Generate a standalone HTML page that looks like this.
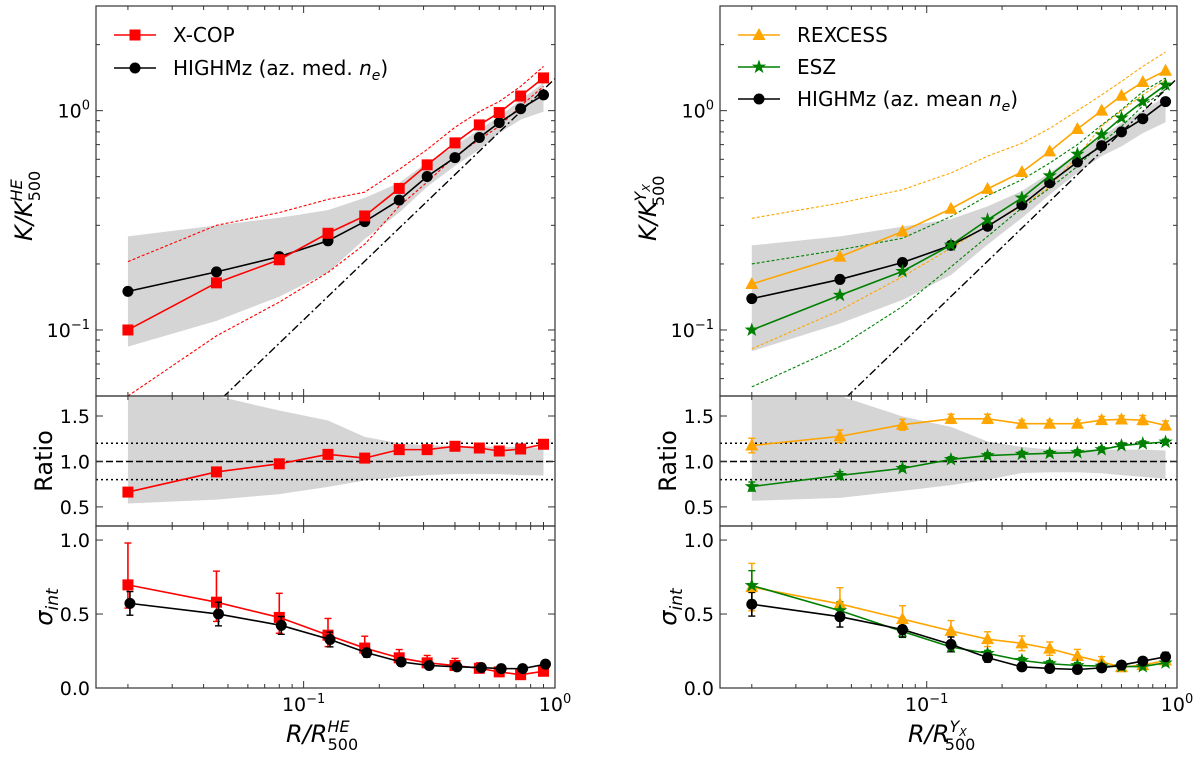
<!DOCTYPE html>
<html><head><meta charset="utf-8">
<style>
html,body{margin:0;padding:0;background:#fff;}
svg{display:block;font-family:"DejaVu Sans","Liberation Sans",sans-serif;}
</style></head>
<body>
<svg id="fig" width="1200" height="758" viewBox="0 0 1200 758" xmlns="http://www.w3.org/2000/svg"></svg>
<script>
// ---------- data ----------
const radii = [0.02,0.045,0.08,0.125,0.175,0.24,0.31,0.40,0.50,0.60,0.73,0.90];
// left column (HE)
const xcopK = [0.100,0.164,0.209,0.276,0.331,0.442,0.566,0.713,0.861,0.98,1.166,1.41];
const highmzMedK = [0.150,0.184,0.216,0.255,0.312,0.391,0.501,0.611,0.754,0.882,1.02,1.18];
const xcopUpper = [0.205,0.30,0.343,0.394,0.425,0.54,0.665,0.84,0.99,1.10,1.29,1.59];
const xcopLower = [0.05,0.094,0.134,0.183,0.246,0.367,0.472,0.62,0.738,0.849,1.05,1.29];
const bandLeftUpper = [0.267,0.30,0.325,0.352,0.40,0.469,0.58,0.69,0.82,0.94,1.12,1.34];
const bandLeftLower = [0.084,0.11,0.142,0.183,0.26,0.343,0.45,0.56,0.665,0.79,0.91,0.99];
const xcopRatio = [0.663,0.885,0.974,1.078,1.037,1.13,1.13,1.167,1.148,1.115,1.137,1.189];
const ratioBandLeftUpper = [2.0,1.72,1.56,1.45,1.27,1.2,1.18,1.17,1.17,1.16,1.16,1.15];
const ratioBandLeftLower = [0.537,0.58,0.64,0.72,0.79,0.83,0.85,0.86,0.86,0.86,0.85,0.845];
const xcopSigma = [0.697,0.58,0.477,0.357,0.27,0.204,0.17,0.152,0.133,0.109,0.09,0.113];
const xcopSigmaHi = [0.98,0.79,0.64,0.47,0.35,0.26,0.22,0.2,0.17,0.14,0.12,0.14];
const xcopSigmaLo = [0.54,0.45,0.37,0.28,0.23,0.17,0.14,0.12,0.11,0.09,0.07,0.09];
const highmzMedSigma = [0.572,0.5,0.423,0.328,0.238,0.176,0.152,0.143,0.138,0.131,0.131,0.161];
const highmzMedSigmaErr = [0.08,0.08,0.06,0.05,0.03,0.02,0.02,0.02,0.02,0.02,0.02,0.02];
// right column (Yx)
const rexcessK = [0.162,0.216,0.281,0.357,0.44,0.525,0.652,0.825,1.0,1.17,1.35,1.52];
const eszK = [0.10,0.144,0.185,0.244,0.318,0.40,0.505,0.634,0.777,0.927,1.10,1.31];
const highmzMeanK = [0.139,0.170,0.203,0.243,0.297,0.372,0.469,0.583,0.692,0.80,0.919,1.10];
const rexcessUpper = [0.323,0.379,0.436,0.52,0.62,0.71,0.83,1.0,1.18,1.36,1.59,1.85];
const rexcessLower = [0.082,0.123,0.175,0.236,0.30,0.366,0.45,0.62,0.85,1.0,1.18,1.38];
const eszUpper = [0.2,0.232,0.262,0.329,0.41,0.484,0.577,0.70,0.86,1.01,1.22,1.41];
const eszLower = [0.055,0.084,0.128,0.194,0.267,0.36,0.443,0.557,0.712,0.848,1.05,1.25];
const bandRightUpper = [0.243,0.267,0.296,0.32,0.366,0.43,0.52,0.64,0.76,0.88,1.0,1.16];
const bandRightLower = [0.08,0.107,0.137,0.178,0.245,0.324,0.414,0.52,0.62,0.687,0.79,0.885];
const rexcessRatio = [1.175,1.276,1.404,1.469,1.469,1.415,1.415,1.415,1.455,1.462,1.455,1.396];
const rexcessRatioErr = [0.08,0.07,0.06,0.05,0.05,0.04,0.04,0.04,0.04,0.04,0.05,0.05];
const eszRatio = [0.724,0.847,0.924,1.022,1.065,1.08,1.09,1.098,1.131,1.175,1.196,1.214];
const eszRatioErr = [0.05,0.04,0.03,0.03,0.03,0.03,0.03,0.03,0.03,0.03,0.03,0.03];
const ratioBandRightUpper = [2.0,1.72,1.495,1.38,1.22,1.16,1.13,1.13,1.13,1.13,1.13,1.12];
const ratioBandRightLower = [0.567,0.60,0.676,0.74,0.80,0.873,0.88,0.88,0.87,0.85,0.83,0.81];
const rexcessSigma = [0.682,0.568,0.466,0.386,0.33,0.302,0.266,0.216,0.177,0.141,0.155,0.186];
const rexcessSigmaErr = [0.16,0.11,0.09,0.07,0.05,0.05,0.045,0.045,0.035,0.03,0.03,0.03];
const eszSigma = [0.693,0.523,0.382,0.277,0.234,0.186,0.164,0.152,0.148,0.145,0.145,0.17];
const eszSigmaErr = [0.1,0.06,0.04,0.03,0.02,0.02,0.02,0.02,0.02,0.02,0.02,0.02];
const highmzMeanSigma = [0.566,0.482,0.395,0.295,0.205,0.143,0.132,0.125,0.136,0.155,0.182,0.211];
const highmzMeanSigmaErr = [0.08,0.07,0.05,0.05,0.03,0.02,0.02,0.02,0.02,0.02,0.02,0.03];
const baseA = 1.40;
const baseB = 1.1;

// ---------- helpers ----------
const NS = "http://www.w3.org/2000/svg";
const svg = document.getElementById('fig');
function mk(tag, attrs, parent){
  const e = document.createElementNS(NS, tag);
  for (const k in attrs) e.setAttribute(k, attrs[k]);
  (parent||svg).appendChild(e);
  return e;
}
const L10 = Math.log10;
const XMIN = Math.pow(10,-1.826), XMAX = 1.0;
function makeX(x0,x1){ return v => x0 + (L10(v)-L10(XMIN))/(L10(XMAX)-L10(XMIN))*(x1-x0); }
function makeYlog(y0,y1,lo,hi){ return v => y1 - (L10(v)-L10(lo))/(L10(hi)-L10(lo))*(y1-y0); }
function makeYlin(y0,y1,lo,hi){ return v => y1 - (v-lo)/(hi-lo)*(y1-y0); }

const RED='#ff0000', ORANGE='#ffa500', GREEN='#008000', BLACK='#000000', GREY='#d5d5d5';

let clipId = 0;
function panel(x0,x1,y0,y1){
  clipId++;
  const cp = mk('clipPath',{id:'cp'+clipId});
  mk('rect',{x:x0,y:y0,width:x1-x0,height:y1-y0},cp);
  const g = mk('g',{'clip-path':'url(#cp'+clipId+')'});
  return g;
}
function polyPts(xf,yf,xs,ys){ return xs.map((x,i)=>xf(x).toFixed(2)+','+yf(ys[i]).toFixed(2)).join(' '); }
function band(g,xf,yf,up,lo,name){
  const pts = radii.map((r,i)=>xf(r)+','+yf(up[i])).concat(radii.map((r,i)=>xf(r)+','+yf(lo[i])).reverse());
  const p = mk('polygon',{points:pts.join(' '),fill:GREY,stroke:'none'},g);
  
  
}
function line(g,xf,yf,ys,color,dash,w,name){
  const p = mk('polyline',{points:polyPts(xf,yf,radii,ys),fill:'none',stroke:color,'stroke-width':w||1.6,'stroke-dasharray':dash||'none'},g);
  
  
}
function marker(g,shape,cx,cy,color,name){
  let e;
  if (shape==='s') e = mk('rect',{x:cx-5.5,y:cy-5.5,width:11,height:11,fill:color},g);
  else if (shape==='o') e = mk('circle',{cx:cx,cy:cy,r:5.5,fill:color},g);
  else if (shape==='^') e = mk('polygon',{points:`${cx},${cy-7} ${cx+6.5},${cy+5} ${cx-6.5},${cy+5}`,fill:color},g);
  else {
    const pts=[]; for(let k=0;k<10;k++){const rr=k%2?3:7.5;const a=-Math.PI/2+k*Math.PI/5;pts.push((cx+rr*Math.cos(a)).toFixed(2)+','+(cy+rr*Math.sin(a)).toFixed(2));}
    e = mk('polygon',{points:pts.join(' '),fill:color},g);
  }
  
  
  return e;
}
function series(g,xf,yf,ys,color,shape,name,xoff){
  const xo = xoff||0;
  const p = mk('polyline',{points:radii.map((r,i)=>(xf(r)+xo)+','+yf(ys[i])).join(' '),fill:'none',stroke:color,'stroke-width':1.6},g);
  
  
  radii.forEach((r,i)=>{ marker(g,shape,xf(r)+xo,yf(ys[i]),color,name+'-point'); });
}
function errbars(g,xf,yf,hi,lo,color,name,xoff){
  const xo = xoff||0;
  radii.forEach((r,i)=>{
    const x = xf(r)+xo, yt = yf(hi[i]), yb = yf(lo[i]);
    const v = mk('line',{x1:x,x2:x,y1:yt,y2:yb,stroke:color,'stroke-width':1.6},g);
    
    
    const c1 = mk('line',{x1:x-3.5,x2:x+3.5,y1:yt,y2:yt,stroke:color,'stroke-width':1.4},g);
    
    
    const c2 = mk('line',{x1:x-3.5,x2:x+3.5,y1:yb,y2:yb,stroke:color,'stroke-width':1.4},g);
    
    
  });
}
function symErr(ys,err,sign){ return ys.map((v,i)=>v+sign*err[i]); }
function hline(g,x0,x1,y,dash,name){
  const l = mk('line',{x1:x0,x2:x1,y1:y,y2:y,stroke:'#000','stroke-width':1.5,'stroke-dasharray':dash},g);
  
  
}
function frame(x0,x1,y0,y1,name){
  const r = mk('rect',{x:x0,y:y0,width:x1-x0,height:y1-y0,fill:'none',stroke:'#333','stroke-width':1.2});
  
  
}
function tick(x1,y1,x2,y2,w){ const t = mk('line',{x1:x1,y1:y1,x2:x2,y2:y2,stroke:'#333','stroke-width':w||1});   }
function xTicks(xf,x0,x1,y0,y1){
  for (let d=-2; d<=0; d++){
    for (let m=1; m<=9; m++){
      const v = m*Math.pow(10,d); if (v<XMIN||v>XMAX+1e-9) continue;
      const x = xf(v), len = m===1?7:4;
      tick(x,y1,x,y1-len); tick(x,y0,x,y0+len);
    }
  }
}
function yTicksLog(yf,x0,x1,lo,hi){
  for (let d=-2; d<=0; d++){
    for (let m=1; m<=9; m++){
      const v = m*Math.pow(10,d); if (v<lo||v>hi) continue;
      const y = yf(v), len = m===1?7:4;
      tick(x0,y,x0+len,y); tick(x1,y,x1-len,y);
    }
  }
}
function yTicksLin(yf,x0,x1,vals,labels){
  vals.forEach((v,i)=>{
    const y = yf(v);
    tick(x0,y,x0+7,y); tick(x1,y,x1-7,y);
    const t = mk('text',{x:x0-6,y:y+7,'font-size':19,'text-anchor':'end',fill:'#000'});
    t.textContent = labels[i];
    
    
  });
}
function powLabel(x,y,anchor,exp,name){
  const t = mk('text',{x:x,y:y,'font-size':19,'text-anchor':anchor,fill:'#000'});
  
  
  const a = mk('tspan',{},t); a.textContent='10';
  const b = mk('tspan',{dy:-8,'font-size':13},t); b.textContent=exp;
}

const logTickVals = [1, 0.1];
const logTickExps = ['0','\u22121'];
const ratioTicks = [0.5,1.0,1.5];
const ratioTickLabels = ['0.5','1.0','1.5'];
const sigmaTicks = [0.0,0.5,1.0];
const sigmaTickLabels = ['0.0','0.5','1.0'];
const xTickVals = [0.1, 1];
const xTickExps = ['\u22121','0'];

function column(x0,x1,cfg){
  const xf = makeX(x0,x1);
  const yT = makeYlog(6,396,0.05,3.0);
  const gT = panel(x0,x1,6,396);
  
  
  cfg.top(gT,xf,yT);
  const bl = mk('line',{x1:xf(XMIN),y1:yT(baseA*Math.pow(XMIN,baseB)),x2:xf(1),y2:yT(baseA),stroke:'#000','stroke-width':1.4,'stroke-dasharray':'8,3,2,3'},gT);
  
  
  cfg.topSeries(gT,xf,yT);
  frame(x0,x1,6,396,cfg.prefix+'-profile-frame');
  xTicks(xf,x0,x1,6,396);
  yTicksLog(yT,x0,x1,0.05,3.0);
  logTickVals.forEach((v,i)=>powLabel(x0-6,yT(v)+7,'end',logTickExps[i],'y-tick-label'));
  const yR = makeYlin(396,526,0.29,1.72);
  const gR = panel(x0,x1,396,526);
  
  
  cfg.ratio(gR,xf,yR);
  hline(gR,x0,x1,yR(1.2),'2,3','ratio-upper-dotted');
  hline(gR,x0,x1,yR(0.8),'2,3','ratio-lower-dotted');
  hline(gR,x0,x1,yR(1.0),'7,3','ratio-unity-dashed');
  cfg.ratioSeries(gR,xf,yR);
  frame(x0,x1,396,526,cfg.prefix+'-ratio-frame');
  xTicks(xf,x0,x1,396,526);
  yTicksLin(yR,x0,x1,ratioTicks,ratioTickLabels);
  const yS = makeYlin(526,688,0,1.095);
  const gS = panel(x0,x1,526,688);
  
  
  cfg.sigma(gS,xf,yS);
  frame(x0,x1,526,688,cfg.prefix+'-scatter-frame');
  xTicks(xf,x0,x1,526,688);
  yTicksLin(yS,x0,x1,sigmaTicks,sigmaTickLabels);
  xTickVals.forEach((v,i)=>powLabel(xf(v),711,'middle',xTickExps[i],'x-tick-label'));
}

column(96,555,{
  prefix:'left',
  top:(g,xf,yf)=>{
    band(g,xf,yf,bandLeftUpper,bandLeftLower,'highmz-scatter-band');
    line(g,xf,yf,xcopUpper,RED,'3,2',1.1,'xcop-upper-dashed');
    line(g,xf,yf,xcopLower,RED,'3,2',1.1,'xcop-lower-dashed');
  },
  topSeries:(g,xf,yf)=>{
    series(g,xf,yf,highmzMedK,BLACK,'o','highmz-med');
    series(g,xf,yf,xcopK,RED,'s','xcop');
  },
  ratio:(g,xf,yf)=>band(g,xf,yf,ratioBandLeftUpper,ratioBandLeftLower,'ratio-band'),
  ratioSeries:(g,xf,yf)=>series(g,xf,yf,xcopRatio,RED,'s','xcop-ratio'),
  sigma:(g,xf,yf)=>{
    errbars(g,xf,yf,xcopSigmaHi,xcopSigmaLo,RED,'xcop-sigma',0);
    series(g,xf,yf,xcopSigma,RED,'s','xcop-sigma');
    errbars(g,xf,yf,symErr(highmzMedSigma,highmzMedSigmaErr,1),symErr(highmzMedSigma,highmzMedSigmaErr,-1),BLACK,'highmz-sigma',2);
    series(g,xf,yf,highmzMedSigma,BLACK,'o','highmz-sigma',2);
  }
});

column(720,1177,{
  prefix:'right',
  top:(g,xf,yf)=>{
    band(g,xf,yf,bandRightUpper,bandRightLower,'highmz-scatter-band');
    line(g,xf,yf,rexcessUpper,ORANGE,'3,2',1.1,'rexcess-upper-dashed');
    line(g,xf,yf,rexcessLower,ORANGE,'3,2',1.1,'rexcess-lower-dashed');
    line(g,xf,yf,eszUpper,GREEN,'3,2',1.1,'esz-upper-dashed');
    line(g,xf,yf,eszLower,GREEN,'3,2',1.1,'esz-lower-dashed');
  },
  topSeries:(g,xf,yf)=>{
    series(g,xf,yf,rexcessK,ORANGE,'^','rexcess');
    series(g,xf,yf,highmzMeanK,BLACK,'o','highmz-mean');
    series(g,xf,yf,eszK,GREEN,'*','esz');
  },
  ratio:(g,xf,yf)=>band(g,xf,yf,ratioBandRightUpper,ratioBandRightLower,'ratio-band'),
  ratioSeries:(g,xf,yf)=>{
    errbars(g,xf,yf,symErr(rexcessRatio,rexcessRatioErr,1),symErr(rexcessRatio,rexcessRatioErr,-1),ORANGE,'rexcess-ratio');
    errbars(g,xf,yf,symErr(eszRatio,eszRatioErr,1),symErr(eszRatio,eszRatioErr,-1),GREEN,'esz-ratio');
    series(g,xf,yf,rexcessRatio,ORANGE,'^','rexcess-ratio');
    series(g,xf,yf,eszRatio,GREEN,'*','esz-ratio');
  },
  sigma:(g,xf,yf)=>{
    errbars(g,xf,yf,symErr(rexcessSigma,rexcessSigmaErr,1),symErr(rexcessSigma,rexcessSigmaErr,-1),ORANGE,'rexcess-sigma');
    errbars(g,xf,yf,symErr(eszSigma,eszSigmaErr,1),symErr(eszSigma,eszSigmaErr,-1),GREEN,'esz-sigma');
    errbars(g,xf,yf,symErr(highmzMeanSigma,highmzMeanSigmaErr,1),symErr(highmzMeanSigma,highmzMeanSigmaErr,-1),BLACK,'highmz-sigma');
    series(g,xf,yf,rexcessSigma,ORANGE,'^','rexcess-sigma');
    series(g,xf,yf,eszSigma,GREEN,'*','esz-sigma');
    series(g,xf,yf,highmzMeanSigma,BLACK,'o','highmz-sigma');
  }
});

// ---------- legends ----------
function legendEntry(x,y,color,shape,name){
  const g = mk('g',{});
  
  
  mk('line',{x1:x,x2:x+42,y1:y,y2:y,stroke:color,'stroke-width':1.6},g);
  marker(g,shape,x+21,y,color,name+'-marker');
  return g;
}
function legendText(x,y,parts,g){
  const t = mk('text',{x:x,y:y+7,'font-size':20,fill:'#000'},g);
  
  
  parts.forEach(p=>{ const s=mk('tspan',p.a||{},t); s.textContent=p.t; });
}
let lg;
lg = legendEntry(114,35,RED,'s','legend-xcop'); legendText(173,35,[{t:'X-COP'}],lg);
lg = legendEntry(114,68,BLACK,'o','legend-highmz-med'); legendText(173,68,[{t:'HIGHMz (az. med. '},{t:'n',a:{'font-style':'italic'}},{t:'e',a:{'font-style':'italic','font-size':14,dy:5}},{t:')',a:{dy:-5}}],lg);
lg = legendEntry(738,35,ORANGE,'^','legend-rexcess'); legendText(797,35,[{t:'REXCESS'}],lg);
lg = legendEntry(738,67,GREEN,'*','legend-esz'); legendText(797,67,[{t:'ESZ'}],lg);
lg = legendEntry(738,99,BLACK,'o','legend-highmz-mean'); legendText(797,99,[{t:'HIGHMz (az. mean '},{t:'n',a:{'font-style':'italic'}},{t:'e',a:{'font-style':'italic','font-size':14,dy:5}},{t:')',a:{dy:-5}}],lg);

// ---------- axis titles ----------
function kLabel(cx,cy,sup,name,isY){
  const g = mk('g',{transform:`translate(${cx},${cy}) rotate(-90)`});
  
  
  const t = mk('text',{x:-38,y:0,'font-size':24,fill:'#000'},g);
  const a = mk('tspan',{'font-style':'italic'},t); a.textContent='K/K';
  const b = mk('tspan',{'font-style':'italic','font-size':16,dy:-10},t); b.textContent=sup;
  if (isY){ const c = mk('tspan',{'font-size':11,'font-style':'italic',dy:4},t); c.textContent='X'; }
  const d = mk('tspan',{'font-size':16,dx:-22,dy:isY?14:18},t); d.textContent='500';
}
kLabel(32,203,'HE','left-y-axis-title',false);
kLabel(656,203,'Y','right-y-axis-title',true);
function rotText(cx,cy,name){
  const t = mk('text',{x:0,y:0,'font-size':24,'text-anchor':'middle',fill:'#000',transform:`translate(${cx},${cy}) rotate(-90)`});
  
  
  return t;
}
let t;
t = rotText(52,461,'left-ratio-title'); t.textContent='Ratio';
t = rotText(676,461,'right-ratio-title'); t.textContent='Ratio';
function sigLabel(cx,cy,name){
  const t = rotText(cx,cy,name);
  const a = mk('tspan',{'font-style':'italic'},t); a.textContent='\u03c3';
  const b = mk('tspan',{'font-style':'italic','font-size':17,dy:6},t); b.textContent='int';
}
sigLabel(52,607,'left-sigma-title');
sigLabel(676,607,'right-sigma-title');
function rLabel(cx,y,sup,name,isY){
  const t = mk('text',{x:cx-40,y:y,'font-size':24,fill:'#000'});
  
  
  const a = mk('tspan',{'font-style':'italic'},t); a.textContent='R/R';
  const b = mk('tspan',{'font-style':'italic','font-size':16,dy:-10},t); b.textContent=sup;
  if (isY){ const c = mk('tspan',{'font-size':11,'font-style':'italic',dy:4},t); c.textContent='X'; }
  const d = mk('tspan',{'font-size':16,dx:-22,dy:isY?14:18},t); d.textContent='500';
}
rLabel(326,742,'HE','left-x-axis-title',false);
rLabel(948,742,'Y','right-x-axis-title',true);
</script>
</body></html>
